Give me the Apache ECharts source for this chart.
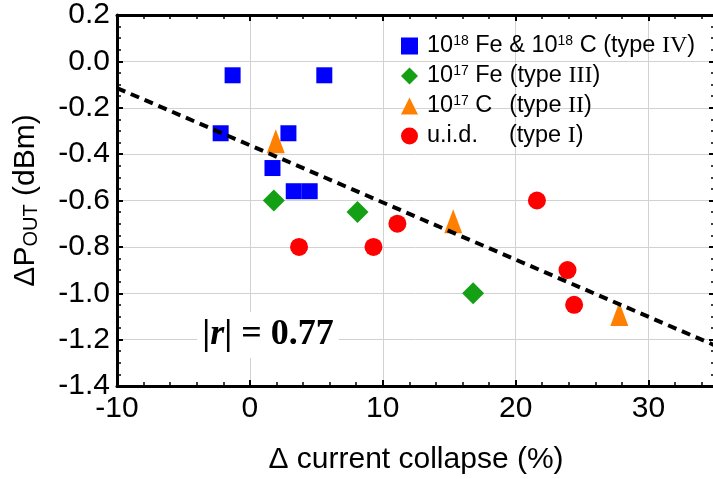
<!DOCTYPE html>
<html lang="en">
<head>
    <meta charset="UTF-8">
    <title>dPout vs current collapse</title>
    <script src="https://cdn.jsdelivr.net/npm/echarts@6/dist/echarts.min.js"></script>
    <style>
        html, body { margin: 0; padding: 0; background: #fff; }
        #main { width: 713px; height: 479px; }
    </style>
</head>
<body>
<div id="main"></div>
<script>
    // data: [current collapse %, dPout dBm]
    var typeIV = [[-1.3, -0.06], [5.6, -0.06], [-2.2, -0.31], [2.9, -0.31], [1.7, -0.46], [3.3, -0.56], [4.5, -0.56]];
    var typeIII = [[1.8, -0.60], [8.1, -0.65], [16.8, -1.00]];
    var typeII = [[1.95, -0.345], [15.3, -0.69], [27.8, -1.09]];
    var typeI = [[3.7, -0.80], [9.3, -0.80], [11.1, -0.70], [21.6, -0.60], [23.9, -0.90], [24.4, -1.05]];
    // dashed fit line end points
    var fitX = [-10, 35];
    var fitY = [-0.115, -1.225];
    var xRange = [-10, 35];
    var yRange = [-1.4, 0.2];

    var legendText = {
        'IV': '10{sup|18} Fe & 10{sup|18} C (type {rom|IV})',
        'III': '10{sup|17} Fe{g2| }(type {rom|III})',
        'II': '10{sup|17} C{g3| }(type {rom|II})',
        'I': 'u.i.d.{g4| }(type {rom|I})'
    };

    var myChart = echarts.init(document.getElementById('main'));

    var sans = 'Liberation Sans';
    var serif = 'Liberation Serif';

    var tickStyle = { show: true, inside: true, length: 6, lineStyle: { color: '#000', width: 2 } };
    var lineStyle = { show: true, onZero: false, lineStyle: { color: '#000', width: 3 } };
    var xMinor = { show: true, splitNumber: 5, length: 4, lineStyle: { color: '#000', width: 1.5 } };
    var yMinor = { show: true, splitNumber: 4, length: 4, lineStyle: { color: '#000', width: 1.5 } };

    var option = {
        animation: false,
        backgroundColor: '#fff',
        grid: { left: 117, top: 15, width: 598, height: 371, outerBoundsMode: 'none' },
        legend: {
            orient: 'vertical',
            left: 396,
            top: 29,
            itemWidth: 17,
            itemHeight: 17,
            itemGap: 6,
            data: [
                { name: 'IV', icon: 'rect' },
                { name: 'III', icon: 'diamond' },
                { name: 'II', icon: 'triangle' },
                { name: 'I', icon: 'circle' }
            ],
            formatter: function (name) { return legendText[name]; },
            textStyle: {
                fontFamily: sans, fontSize: 23.5, color: '#000', padding: [0, 0, 0, 4],
                rich: {
                    sup: { fontFamily: sans, fontSize: 14, color: '#000', verticalAlign: 'top' },
                    rom: { fontFamily: serif, fontSize: 24, color: '#000' },
                    g2: { width: 7 },
                    g3: { width: 17 },
                    g4: { width: 31 }
                }
            }
        },
        xAxis: [{
            type: 'value',
            min: xRange[0], max: xRange[1], interval: 10,
            name: 'Δ current collapse (%)',
            nameLocation: 'middle',
            nameGap: 59,
            nameTextStyle: { fontFamily: sans, fontSize: 30, color: '#000' },
            axisLine: lineStyle,
            axisTick: tickStyle,
            minorTick: xMinor,
            axisLabel: { fontFamily: sans, fontSize: 30, color: '#000', margin: 8, showMaxLabel: false },
            splitLine: { show: true, lineStyle: { color: '#d2d2d2', width: 1 } }
        }, {
            type: 'value', position: 'top',
            min: xRange[0], max: xRange[1], interval: 10,
            axisLine: lineStyle,
            axisTick: tickStyle,
            minorTick: xMinor,
            axisLabel: { show: false },
            splitLine: { show: false }
        }],
        yAxis: [{
            type: 'value',
            min: yRange[0], max: yRange[1], interval: 0.2,
            name: 'ΔP{sub|OUT} (dBm)',
            nameLocation: 'middle',
            nameGap: 76,
            nameTextStyle: {
                fontFamily: sans, fontSize: 30, color: '#000',
                rich: { sub: { fontFamily: sans, fontSize: 20, color: '#000', verticalAlign: 'bottom' } }
            },
            axisLine: lineStyle,
            axisTick: tickStyle,
            minorTick: yMinor,
            axisLabel: {
                fontFamily: sans, fontSize: 30, color: '#000', margin: 7,
                formatter: function (v) { return v.toFixed(1); }
            },
            splitLine: { show: true, lineStyle: { color: '#d2d2d2', width: 1 } }
        }, {
            type: 'value', position: 'right',
            min: yRange[0], max: yRange[1], interval: 0.2,
            axisLine: lineStyle,
            axisTick: tickStyle,
            minorTick: yMinor,
            axisLabel: { show: false },
            splitLine: { show: false }
        }],
        graphic: [{
            type: 'text',
            x: 268, y: 335,
            z: 5,
            style: {
                text: '|{i|r}| = 0.77',
                font: 'bold 36px "Liberation Serif"',
                fill: '#000',
                align: 'center',
                verticalAlign: 'middle',
                backgroundColor: '#fff',
                padding: [5, 5],
                rich: { i: { fontFamily: serif, fontSize: 36, fontWeight: 'bold', fontStyle: 'italic', fill: '#000' } }
            }
        }],
        series: [{
            name: 'II', type: 'scatter', symbol: 'triangle', symbolSize: [18, 24],
            itemStyle: { color: '#ff8000', opacity: 1 },
            data: typeII
        }, {
            name: 'fit', type: 'line', showSymbol: false, silent: true,
            lineStyle: { color: '#000', width: 4, type: [9, 6] },
            data: fitX.map(function (x, i) { return [x, fitY[i]]; })
        }, {
            name: 'I', type: 'scatter', symbol: 'circle', symbolSize: 18,
            itemStyle: { color: '#ff0000', opacity: 1 },
            data: typeI
        }, {
            name: 'III', type: 'scatter', symbol: 'diamond', symbolSize: 22,
            itemStyle: { color: '#14a014', opacity: 1 },
            data: typeIII
        }, {
            name: 'IV', type: 'scatter', symbol: 'rect', symbolSize: 16,
            itemStyle: { color: '#0000ff', opacity: 1 },
            data: typeIV
        }]
    };

    myChart.setOption(option);
</script>
</body>
</html>
